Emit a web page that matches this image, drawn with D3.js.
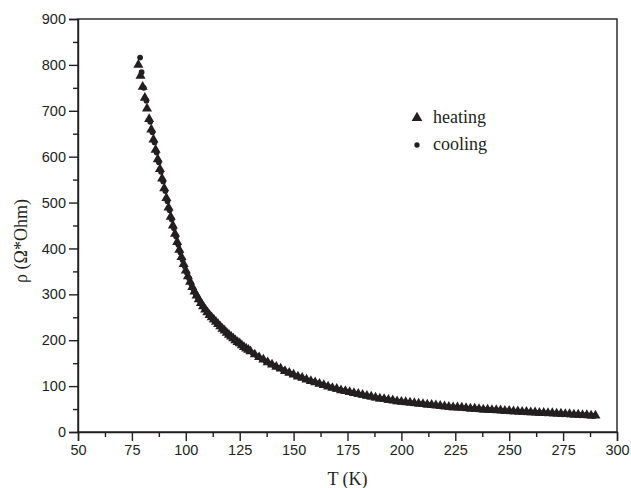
<!DOCTYPE html>
<html>
<head>
<meta charset="utf-8">
<script src="https://cdn.jsdelivr.net/npm/d3@7"></script>
<style>
  body { margin: 0; background: #fff; }
  svg { display: block; }
</style>
</head>
<body>
<svg class="chart"></svg>
<script>
const WIDTH = 631
const HEIGHT = 488
const INK = '#231f20'

// temperature axis ticks and resistivity axis ticks
const xTicks = [50, 75, 100, 125, 150, 175, 200, 225, 250, 275, 300]
const yTicks = [0, 100, 200, 300, 400, 500, 600, 700, 800, 900]

// heating run
const heatingT = [78,79,80,81,82,83,84,85,86,87,88,89,90,91,92,93,94,95,96,97,98,99,100,101,102,103,104,105,106,107,108,109,110,111,112,113,114,115,116,117,118,119,120,121,122,123,124,125,126,127,128,129,130,
  132,134,136,138,140,142,144,146,148,150,152,154,156,158,160,162,164,166,168,170,172,174,176,178,180,182,184,186,188,190,192,194,196,198,200,202,204,206,208,210,212,214,216,218,220,222,224,226,228,230,232,234,236,238,240,242,244,246,248,250,252,254,256,258,260,262,264,266,268,270,272,274,276,278,280,282,284,286,288,290]
const heatingRho = [800,776,752,728,705,682,659,637,615,594,573,552,531,510,489,469,450,432,414,397,381,366,352,339,327,316,306,297,289,281,274,267,261,255,250,245,240,235,230,225,221,216,212,208,204,200,196,193,189,185,182,179,176,
  169,163,158,152,147,142,138,133,129,125,121,118,114,111,108,105,102,99,96,94,91,89,87,85,83,81,79,77,75,73,72,70,69,67,66,65,64,63,62,61,60,59,58,57,56,55,54,54,53,52,51,51,50,49,49,48,48,47,46,46,45,45,44,44,43,43,42,42,41,41,40,40,39,39,38,38,37,37,36,36]

// cooling run
const coolingT = [78.8,79.5,80.5,81.7,83.5,84.5,85.5,86.5,87.5,88.5,89.5,90.5,91.5,92.5,93.5,94.5,95.5,96.5,97.5,98.5,99.5,100.5,101.5,102.5,103.5,104.5,105.5,106.5,107.5,108.5,109.5,110.5,111.5,112.5,113.5,114.5,115.5,116.5,117.5,118.5,119.5,120.5,121.5,122.5,123.5,124.5,125.5,126.5,127.5,128.5,129.5,
  131,133,135,137,139,141,143,145,147,149,151,153,155,157,159,161,163,165,167,169,171,173,175,177,179,181,183,185,187,189,191,193,195,197,199,201,203,205,207,209,211,213,215,217,219,221,223,225,227,229,231,233,235,237,239,241,243,245,247,249,251,253,255,257,259,261,263,265,267,269,271,273,275,277,279,281,283,285,287,289]
const coolingRho = [816,784,750,722,676,653,631,609,588,567,546,525,503,483,463,444,426,408,391,375,361,347,335,323,312,302,294,286,278,271,264,258,252,247,242,237,232,227,222,218,213,209,205,201,197,194,190,186,183,180,177,
  172,165,160,154,149,144,139,135,130,126,122,119,115,112,109,106,103,100,97,94,92,89,87,85,83,81,79,77,75,73,71.5,70,68.5,67,65.5,64.5,63.5,62.5,61.5,60.5,59.5,58.5,57.5,56.5,55.5,54.5,53.5,53,52.5,51.5,50.5,50,49.5,48.5,48,47.5,47,46.5,45.5,45,44.5,44,43.5,43,42.5,42,41.5,41,40.5,40,39.5,39,38.5,38,37.5,37,36.5,36,35.5,35]

const seriesNames = ['heating', 'cooling']

const heatingPoints = heatingT.map((t, i) => ({t: t, rho: heatingRho[i]}))
const coolingPoints = coolingT.map((t, i) => ({t: t, rho: coolingRho[i]}))

// plot box
const margin = {left: 78, right: 14, top: 19, bottom: 56}
const plotRight = WIDTH - margin.right
const plotBottom = HEIGHT - margin.bottom

const svg = d3.select('svg.chart')
  .attr('width', WIDTH)
  .attr('height', HEIGHT)

const xScale = d3.scaleLinear()
  .domain([50, 300])
  .range([margin.left, plotRight])

const yScale = d3.scaleLinear()
  .domain([0, 900])
  .range([plotBottom, margin.top])

// frame (top and right sides, no ticks)
svg.append('rect')
  .attr('x', margin.left)
  .attr('y', margin.top)
  .attr('width', plotRight - margin.left)
  .attr('height', plotBottom - margin.top)
  .style('fill', 'none')
  .style('stroke', INK)
  .style('stroke-width', 1.4)

// minor ticks
const xMinor = d3.range(62.5, 300, 25)
const yMinor = d3.range(50, 900, 100)

svg.append('g')
  .attr('transform', 'translate(0,' + plotBottom + ')')
  .call(d3.axisBottom(xScale).tickValues(xMinor).tickSize(5).tickFormat(''))
  .call(g => g.select('.domain').remove())

svg.append('g')
  .attr('transform', 'translate(' + margin.left + ',0)')
  .call(d3.axisLeft(yScale).tickValues(yMinor).tickSize(5).tickFormat(''))
  .call(g => g.select('.domain').remove())

// major ticks with labels
svg.append('g')
  .attr('transform', 'translate(0,' + plotBottom + ')')
  .call(d3.axisBottom(xScale).tickValues(xTicks).tickSize(9).tickPadding(4))

svg.append('g')
  .attr('transform', 'translate(' + margin.left + ',0)')
  .call(d3.axisLeft(yScale).tickValues(yTicks).tickSize(9).tickPadding(3))

svg.selectAll('.tick line')
  .style('stroke', INK)
  .style('stroke-width', 1.4)
svg.selectAll('.domain')
  .style('stroke', INK)
  .style('stroke-width', 1.4)
svg.selectAll('.tick text')
  .style('font-family', '"Liberation Sans", Arial, sans-serif')
  .style('font-size', '14.5px')
  .style('fill', INK)

// axis titles
svg.append('text')
  .attr('x', (margin.left + plotRight) / 2)
  .attr('y', 485)
  .attr('text-anchor', 'middle')
  .style('font-family', '"Liberation Serif", "Times New Roman", serif')
  .style('font-size', '18px')
  .style('fill', INK)
  .text('T (K)')

svg.append('text')
  .attr('transform', 'translate(27,241) rotate(-90)')
  .attr('text-anchor', 'middle')
  .style('font-family', '"Liberation Serif", "Times New Roman", serif')
  .style('font-size', '18px')
  .style('fill', INK)
  .text('ρ (Ω*Ohm)')

// markers
const triangle = d3.symbol().type(d3.symbolTriangle).size(44)
const dot = d3.symbol().type(d3.symbolCircle).size(26)

svg.append('g')
  .attr('class', 'heating')
  .selectAll('path')
  .data(heatingPoints)
  .enter()
  .append('path')
  .attr('transform', d => 'translate(' + xScale(d.t) + ',' + yScale(d.rho) + ')')
  .attr('d', triangle)
  .style('fill', INK)

svg.append('g')
  .attr('class', 'cooling')
  .selectAll('path')
  .data(coolingPoints)
  .enter()
  .append('path')
  .attr('transform', d => 'translate(' + xScale(d.t) + ',' + yScale(d.rho) + ')')
  .attr('d', dot)
  .style('fill', INK)

// legend
const legend = svg.append('g').attr('class', 'legend')
const legendSymbols = [d3.symbol().type(d3.symbolTriangle).size(50), d3.symbol().type(d3.symbolCircle).size(22)]

seriesNames.forEach((name, i) => {
  const rowY = 118 + i * 27
  legend.append('path')
    .attr('transform', 'translate(417,' + rowY + ')')
    .attr('d', legendSymbols[i])
    .style('fill', INK)
  legend.append('text')
    .attr('x', 433)
    .attr('y', rowY + 5)
    .style('font-family', '"Liberation Serif", "Times New Roman", serif')
    .style('font-size', '18px')
    .style('fill', INK)
    .text(name)
})
</script>
</body>
</html>
